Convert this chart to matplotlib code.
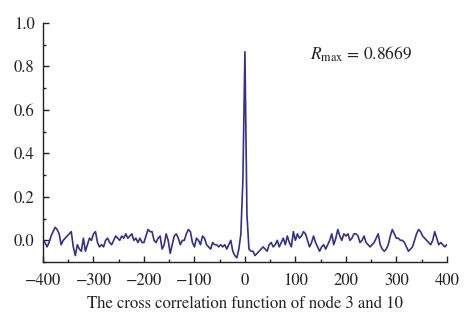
import numpy as np
import matplotlib
matplotlib.use('Agg')
import matplotlib.pyplot as plt
from matplotlib.ticker import MultipleLocator

plt.rcParams['font.family'] = ['STIXGeneral', 'DejaVu Serif']
plt.rcParams['mathtext.fontset'] = 'stix'

# cross correlation values, lag step 4
lag = np.arange(-400, 401, 4)
corr = [
    0.00, -0.01, -0.03, -0.01, 0.02, 0.04, 0.06, 0.05, 0.03, -0.02,
    0.00, 0.01, 0.02, 0.03, 0.04, -0.03, -0.07, -0.02, -0.04, -0.05,
    0.01, -0.05, -0.02, 0.01, 0.00, 0.03, 0.04, -0.01, -0.03, -0.02,
    -0.03, 0.00, 0.01, -0.01, -0.02, 0.00, 0.02, 0.01, 0.00, 0.02,
    0.01, 0.03, 0.01, 0.02, 0.03, 0.00, 0.01, -0.01, 0.01, -0.01,
    -0.01, 0.02, 0.05, 0.04, 0.04, 0.00, -0.01, 0.01, 0.02, -0.04,
    -0.02, 0.03, 0.00, -0.06, -0.02, 0.02, 0.03, 0.01, -0.02, 0.00,
    0.00, 0.03, 0.05, 0.04, -0.01, -0.03, 0.01, 0.00, -0.02, 0.02,
    0.01, -0.02, -0.03, -0.04, -0.01, -0.02, -0.02, -0.03, -0.02, -0.03,
    -0.02, -0.04, -0.02, 0.00, -0.05, -0.07, -0.08, -0.04, 0.03, 0.28,
    0.8669,
    0.12, -0.04, -0.05, -0.05, -0.07, -0.06, -0.05, -0.04, -0.03, -0.04,
    -0.05, -0.02, -0.01, -0.03, -0.02, 0.00, -0.03, -0.01, 0.01, -0.02,
    0.02, -0.01, -0.03, 0.04, 0.00, 0.03, 0.01, 0.02, 0.04, 0.03,
    0.00, -0.03, -0.01, 0.02, -0.01, -0.03, -0.05, -0.03, -0.02, -0.04,
    -0.02, 0.00, 0.03, -0.02, 0.01, 0.05, 0.02, 0.00, 0.03, 0.02,
    0.03, 0.00, 0.01, 0.03, 0.03, 0.02, -0.01, 0.00, 0.02, -0.01,
    -0.02, -0.03, -0.02, -0.01, 0.01, 0.03, -0.02, -0.04, -0.05, -0.04,
    -0.02, 0.02, 0.05, 0.03, 0.01, 0.01, 0.00, 0.00, -0.01, -0.03,
    -0.05, -0.04, -0.03, 0.00, 0.03, 0.05, 0.04, 0.02, 0.01, 0.00,
    -0.01, -0.02, 0.00, 0.04, 0.01, -0.02, -0.01, -0.02, -0.03, -0.02,
]
r_max = max(corr)

fig = plt.figure(figsize=(4.74, 3.22), dpi=100)
ax = fig.add_axes([0.0907, 0.186, 0.852, 0.743])

ax.plot(lag, corr, color='#34308f', lw=1.2)

ax.set_xlim(-400, 400)
ax.set_ylim(-0.1, 1.0)
ax.xaxis.set_major_locator(MultipleLocator(100))
ax.xaxis.set_minor_locator(MultipleLocator(50))
ax.yaxis.set_minor_locator(MultipleLocator(0.1))
ax.set_yticks([0.0, 0.2, 0.4, 0.6, 0.8, 1.0])
ax.set_yticklabels(['0.0', '0.2', '0.4', '0.6', '0.8', '1.0'])

for side in ['top', 'right']:
    ax.spines[side].set_visible(False)
for side in ['left', 'bottom']:
    ax.spines[side].set_linewidth(1.0)
    ax.spines[side].set_color('#222222')

ax.tick_params(which='major', direction='in', length=4.5, width=1.0,
               labelsize=12, colors='#222222')
ax.tick_params(which='minor', direction='in', length=2.5, width=1.0,
               colors='#222222')
ax.tick_params(axis='x', pad=8)
ax.tick_params(axis='y', pad=6)

ax.set_xlabel('The cross correlation function of node 3 and 10',
              fontsize=12, color='#222222', labelpad=5)

ax.text(128, 0.855, r'$R_{\mathrm{max}}$ = %.4f' % r_max, fontsize=12.5,
        color='#222222', va='center')

fig.savefig('out.png', dpi=100)
